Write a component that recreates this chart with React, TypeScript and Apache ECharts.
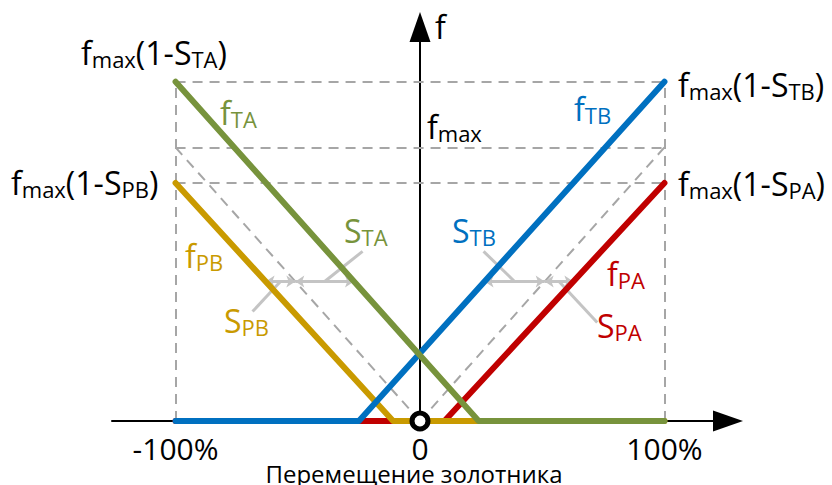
import { useEffect, useRef } from 'react';
import * as echarts from 'echarts';

const FONT = '"Open Sans", "Noto Sans", sans-serif';

// Spool displacement, % of full stroke
const xTickValues = [-100, 0, 100];
const xMin = -126;
const xMax = 126;
const yMax = 144;

// Flow characteristic levels (relative, fmax = 100)
const levelSTA = 124;
const levelFmax = 100;
const levelSPB = 87;

// Flow characteristics: [displacement %, flow]
const fTA = [[-100, 124], [24, 0], [100, 0]];
const fTB = [[-100, 0], [-25, 0], [100, 124]];
const fPB = [[-100, 87], [-11, 0], [100, 0]];
const fPA = [[-100, 0], [10, 0], [100, 87]];

// Ideal (zero-lap) characteristics
const idealB = [[-100, 100], [0, 0]];
const idealA = [[0, 0], [100, 100]];

// Height at which the lap dimensions are measured
const lapLevel = 51;

// Leader line start points for the lap captions
const leaderSTA = [-23.5, 62];
const leaderSPB = [-68.5, 40];
const leaderSTB = [26, 62];
const leaderSPA = [72.5, 36];

const GREEN = '#77933C';
const BLUE = '#0070C0';
const GOLD = '#C99A00';
const RED = '#C00000';
const DASH = '#A6A6A6';
const LAP = '#C4C4C4';

// x of a polyline at a given height (first sloped segment that spans it)
function xAt(pts: number[][], y: number): number {
  for (let i = 0; i < pts.length - 1; i++) {
    const [x1, y1] = pts[i];
    const [x2, y2] = pts[i + 1];
    if (y1 === y2) continue;
    const lo = Math.min(y1, y2);
    const hi = Math.max(y1, y2);
    if (y >= lo && y <= hi) return x1 + ((y - y1) / (y2 - y1)) * (x2 - x1);
  }
  return pts[0][0];
}

function richLabel(
  x: number,
  y: number,
  parts: [string, string][],
  color: string,
  main = 32,
  sub = 22
) {
  return {
    type: 'text',
    x,
    y,
    z: 100,
    style: {
      text: parts.map(([k, t]) => `{${k}|${t}}`).join(''),
      align: 'left',
      verticalAlign: 'middle',
      rich: {
        m: { fontSize: main, lineHeight: main + 4, fontFamily: FONT, fill: color },
        s: { fontSize: sub, lineHeight: sub - 2, verticalAlign: 'bottom', fontFamily: FONT, fill: color },
      },
    },
  };
}

export default function App() {
  const ref = useRef<HTMLDivElement>(null);

  useEffect(() => {
    if (!ref.current) return;
    const chart = echarts.init(ref.current, undefined, { renderer: 'svg' });

    const lapSegments = [
      [xAt(fPB, lapLevel), xAt(idealB, lapLevel)],
      [xAt(idealB, lapLevel), xAt(fTA, lapLevel)],
      [xAt(fTB, lapLevel), xAt(idealA, lapLevel)],
      [xAt(idealA, lapLevel), xAt(fPA, lapLevel)],
    ];
    const mid = (s: number[]) => (s[0] + s[1]) / 2;
    const leaders = [
      [leaderSPB, [mid(lapSegments[0]), lapLevel]],
      [leaderSTA, [mid(lapSegments[1]), lapLevel]],
      [leaderSTB, [mid(lapSegments[2]), lapLevel]],
      [leaderSPA, [mid(lapSegments[3]), lapLevel]],
    ];

    const guides: number[][][] = [
      [[-100, levelSTA], [100, levelSTA]],
      [[-100, levelFmax], [100, levelFmax]],
      [[-100, levelSPB], [100, levelSPB]],
      [[-100, 0], [-100, levelSTA]],
      [[100, 0], [100, levelSTA]],
      idealB,
      idealA,
    ];

    const flow = (name: string, data: number[][], color: string) => ({
      name,
      type: 'line',
      data,
      showSymbol: false,
      clip: false,
      lineStyle: { color, width: 6, cap: 'round', join: 'round' },
      silent: true,
    });

    chart.setOption({
      animation: false,
      grid: { left: 112, right: 104, top: 27, bottom: 64, outerBoundsMode: 'none' },
      xAxis: {
        type: 'value',
        min: xMin,
        max: xMax,
        axisLine: {
          show: true,
          symbol: ['none', 'triangle'],
          symbolSize: [21, 30],
          lineStyle: { color: '#000', width: 2 },
        },
        axisTick: { show: false },
        splitLine: { show: false },
        axisLabel: {
          customValues: xTickValues,
          formatter: (v: number) => (v === 0 ? '0' : `${v}%`),
          fontSize: 30,
          lineHeight: 24,
          margin: 15,
          fontFamily: FONT,
          color: '#000',
        },
      },
      yAxis: {
        type: 'value',
        min: 0,
        max: yMax,
        axisLine: {
          show: true,
          onZero: true,
          symbol: ['none', 'triangle'],
          symbolSize: [21, 30],
          lineStyle: { color: '#000', width: 2 },
        },
        axisTick: { show: false },
        splitLine: { show: false },
        axisLabel: { show: false },
      },
      series: [
        {
          type: 'lines',
          coordinateSystem: 'cartesian2d',
          silent: true,
          lineStyle: { color: DASH, width: 2, type: [10, 7], opacity: 1 },
          data: guides.map((c) => ({ coords: c })),
        },
        flow('fPA', fPA, RED),
        flow('fPB', fPB, GOLD),
        flow('fTB', fTB, BLUE),
        flow('fTA', fTA, GREEN),
        {
          type: 'lines',
          coordinateSystem: 'cartesian2d',
          silent: true,
          lineStyle: { color: LAP, width: 3, opacity: 1 },
          data: leaders.map((c) => ({ coords: c })),
        },
        {
          type: 'lines',
          coordinateSystem: 'cartesian2d',
          silent: true,
          symbol: ['arrow', 'arrow'],
          symbolSize: 9,
          lineStyle: { color: LAP, width: 3, opacity: 1 },
          data: lapSegments.map((s) => ({ coords: [[s[0], lapLevel], [s[1], lapLevel]] })),
        },
        {
          type: 'scatter',
          data: [[0, 0]],
          symbol: 'circle',
          symbolSize: 16,
          silent: true,
          z: 10,
          itemStyle: { color: '#fff', borderColor: '#000', borderWidth: 5, opacity: 1 },
        },
      ],
      graphic: [
        { type: 'text', x: 435, y: 26, style: { text: 'f', fontSize: 32, fontFamily: FONT, fill: '#000', align: 'left', verticalAlign: 'middle' } },
        richLabel(81, 52, [['m', 'f'], ['s', 'max'], ['m', '(1-S'], ['s', 'TA'], ['m', ')']], '#000'),
        richLabel(11, 182, [['m', 'f'], ['s', 'max'], ['m', '(1-S'], ['s', 'PB'], ['m', ')']], '#000'),
        richLabel(678, 84, [['m', 'f'], ['s', 'max'], ['m', '(1-S'], ['s', 'TB'], ['m', ')']], '#000'),
        richLabel(678, 183, [['m', 'f'], ['s', 'max'], ['m', '(1-S'], ['s', 'PA'], ['m', ')']], '#000'),
        richLabel(427, 126, [['m', 'f'], ['s', 'max']], '#000'),
        richLabel(220, 112, [['m', 'f'], ['s', 'TA']], GREEN),
        richLabel(344, 230, [['m', 'S'], ['s', 'TA']], GREEN),
        richLabel(185, 255, [['m', 'f'], ['s', 'PB']], GOLD),
        richLabel(224, 320, [['m', 'S'], ['s', 'PB']], GOLD),
        richLabel(574, 108, [['m', 'f'], ['s', 'TB']], BLUE),
        richLabel(452, 230, [['m', 'S'], ['s', 'TB']], BLUE),
        richLabel(607, 273, [['m', 'f'], ['s', 'PA']], RED),
        richLabel(597, 325, [['m', 'S'], ['s', 'PA']], RED),
        {
          type: 'text',
          x: 414,
          y: 473,
          style: {
            text: 'Перемещение золотника',
            fontSize: 24,
            lineHeight: 20,
            fontFamily: FONT,
            fill: '#000',
            align: 'center',
            verticalAlign: 'middle',
          },
        },
      ],
    });

    return () => chart.dispose();
  }, []);

  return (
    <div
      ref={ref}
      style={{ position: 'fixed', left: 0, top: 0, width: 832, height: 485, background: '#fff' }}
    />
  );
}
